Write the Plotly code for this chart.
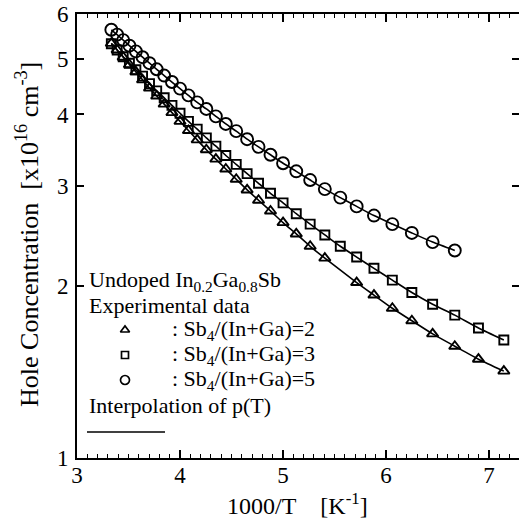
import plotly.graph_objects as go
import math

# ---- data ----
T_all = [300, 295, 290, 285, 280, 275, 270, 265, 260, 255, 250, 245, 240, 235, 230,
         225, 220, 215, 210, 205, 200, 195, 190, 185, 180, 175, 170, 165, 160, 155,
         150, 145, 140]

# Sb4/(In+Ga)=2 (triangles) - no point at 180 K
T_tri = [300, 295, 290, 285, 280, 275, 270, 265, 260, 255, 250, 245, 240, 235, 230,
         225, 220, 215, 210, 205, 200, 195, 190, 185, 175, 170, 165, 160, 155, 150,
         145, 140]
p_tri = [5.33, 5.19, 5.04, 4.89, 4.75, 4.60, 4.45, 4.31, 4.17, 4.03, 3.89, 3.75, 3.61,
         3.47, 3.34, 3.21, 3.08, 2.95, 2.83, 2.71, 2.585, 2.47, 2.35, 2.24, 2.03, 1.93,
         1.83, 1.74, 1.65, 1.57, 1.49, 1.42]

# Sb4/(In+Ga)=3 (squares)
T_sq = T_all
p_sq = [5.32, 5.19, 5.05, 4.92, 4.79, 4.67, 4.53, 4.40, 4.28, 4.15, 4.02, 3.89, 3.77,
        3.64, 3.52, 3.39, 3.27, 3.15, 3.03, 2.91, 2.80, 2.68, 2.57, 2.46, 2.35, 2.25,
        2.15, 2.05, 1.95, 1.86, 1.78, 1.69, 1.61]

# Sb4/(In+Ga)=5 (circles)
T_ci = T_all[:31]
p_ci = [5.63, 5.52, 5.40, 5.28, 5.16, 5.04, 4.92, 4.80, 4.68, 4.56, 4.44, 4.32, 4.20,
        4.09, 3.97, 3.85, 3.74, 3.62, 3.51, 3.40, 3.285, 3.18, 3.07, 2.96, 2.86, 2.76,
        2.66, 2.57, 2.48, 2.39, 2.31]

x_ticks = [3, 4, 5, 6, 7]
y_ticks = [1, 2, 3, 4, 5, 6]

FONT = "Liberation Serif"
W, H = 519, 524
L, R, TOP, B = 77, 0, 14, 66
PW = W - L - R
PH = H - TOP - B


def inv(T):
    return [1000.0 / t for t in T]


def px(x):
    return (x - L) / PW


def py(y):
    return 1 - (y - TOP) / PH


fig = go.Figure()

series = [
    (T_tri, p_tri, "triangle-up-open", 10),
    (T_sq, p_sq, "square-open", 9),
    (T_ci, p_ci, "circle-open", 12),
]
for T, p, sym, sz in series:
    fig.add_trace(go.Scatter(
        x=inv(T), y=p, mode="lines+markers",
        line=dict(color="black", width=1.6, shape="spline", smoothing=0.6),
        marker=dict(symbol=sym, size=sz, color="black", line=dict(width=1.9, color="black")),
        showlegend=False, hoverinfo="skip"))

# legend symbols on a pixel-coordinate overlay axis
leg_syms = ["triangle-up-open", "square-open", "circle-open"]
leg_sizes = [8, 7, 9]
leg_rows = [330, 355, 380]
for s, sz, yy in zip(leg_syms, leg_sizes, leg_rows):
    fig.add_trace(go.Scatter(
        x=[125], y=[yy], xaxis="x2", yaxis="y2", mode="markers",
        marker=dict(symbol=s, size=sz, color="black", line=dict(width=1.7, color="black")),
        showlegend=False, hoverinfo="skip"))

axis_common = dict(showline=True, linecolor="black", linewidth=2, mirror="ticks",
                   ticks="inside", tickcolor="black", showgrid=False, zeroline=False,
                   automargin=False,
                   tickfont=dict(family=FONT, size=23, color="black"))

fig.update_layout(
    width=W, height=H,
    margin=dict(l=L, r=R, t=TOP, b=B, autoexpand=False),
    paper_bgcolor="white", plot_bgcolor="white",
    xaxis=dict(range=[3, 7.29], tickvals=x_ticks, ticklen=8, tickwidth=1.6,
               minor=dict(dtick=0.1, tick0=3, ticklen=4, tickwidth=1.2, ticks="inside",
                          tickcolor="black", showgrid=False),
               ticklabelstandoff=-5, **axis_common),
    yaxis=dict(type="log", range=[0, math.log10(6)], tickvals=y_ticks,
               ticktext=[str(v) for v in y_ticks], ticklen=7, tickwidth=1.6,
               ticklabelstandoff=2, **axis_common),
    xaxis2=dict(overlaying="x", range=[L, W - R], visible=False, automargin=False),
    yaxis2=dict(overlaying="y", range=[H - B, TOP], visible=False, automargin=False),
)

ann = []
# axis titles
ann.append(dict(text="Hole Concentration  [x10<sup>16</sup> cm<sup>-3</sup>]",
                x=px(27), y=py(235), xref="paper", yref="paper", textangle=-90,
                showarrow=False, xanchor="center", yanchor="middle",
                font=dict(family=FONT, size=26, color="black")))
ann.append(dict(text="1000/T&nbsp;&nbsp;&nbsp;&nbsp;[K<sup>-1</sup>]",
                x=px(297), y=py(504), xref="paper", yref="paper",
                showarrow=False, xanchor="center", yanchor="middle",
                font=dict(family=FONT, size=24, color="black")))
# legend texts
leg_texts = [
    (87, 281, "Undoped In<sub>0.2</sub>Ga<sub>0.8</sub>Sb"),
    (87, 305, "Experimental data"),
    (170, 330, ": Sb<sub>4</sub>/(In+Ga)=2"),
    (170, 355, ": Sb<sub>4</sub>/(In+Ga)=3"),
    (170, 380, ": Sb<sub>4</sub>/(In+Ga)=5"),
    (87, 405, "Interpolation of p(T)"),
]
for xx, yy, t in leg_texts:
    ann.append(dict(text=t, x=xx, y=yy, xref="x2", yref="y2", showarrow=False,
                    xanchor="left", yanchor="middle",
                    font=dict(family=FONT, size=22, color="black")))
fig.update_layout(annotations=ann)

fig.add_shape(type="line", x0=87, x1=165, y0=432, y1=432, xref="x2", yref="y2",
              line=dict(color="black", width=1.6))

fig.write_html("out.html", config={"displayModeBar": False},
               post_script="document.body.style.margin='0px';"
                           "document.body.style.overflow='hidden';")
